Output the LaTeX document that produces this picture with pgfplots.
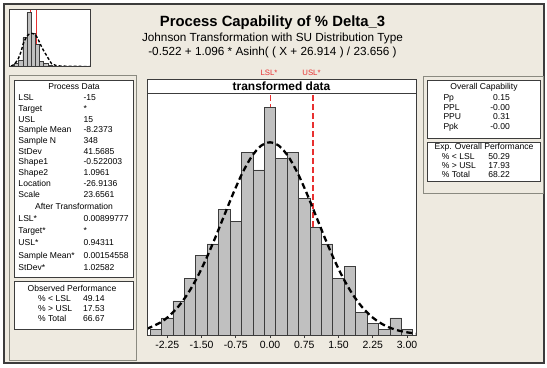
\documentclass[border=0pt]{standalone}
\usepackage{pgfplots}
\pgfplotsset{compat=1.18}
\usepackage{fontspec}
\setmainfont{Liberation Sans}
\definecolor{bg}{HTML}{EEEAE0}
\definecolor{barfill}{HTML}{C0C0C0}
\definecolor{frm}{HTML}{3C3C3C}
\definecolor{pan}{HTML}{8A8A80}
\definecolor{spec}{HTML}{E83030}
\newcommand{\fs}[1]{\fontsize{#1}{#1}\selectfont}
\newcommand{\lrow}[3]{%
  \node[anchor=base west,inner sep=0] at (18.3,#1+3.1) {#2};
  \node[anchor=base west,inner sep=0] at (83.3,#1+3.1) {#3};}
\newcommand{\orow}[3]{%
  \node[anchor=base west,inner sep=0] at (38,#1+3.1) {#2};
  \node[anchor=base west,inner sep=0] at (83,#1+3.1) {#3};}
\newcommand{\rrow}[4]{%
  \node[anchor=base west,inner sep=0] at (#1,#2+3.1) {#3};
  \node[anchor=base east,inner sep=0] at (510,#2+3.1) {#4};}
\begin{document}
\begin{tikzpicture}[x=1bp,y=1bp]
\useasboundingbox (0,0) rectangle (547,367);
\fill[white] (0,0) rectangle (547,367);
\begin{scope}[yshift=367bp,y=-1bp]
  \fill[bg] (4,4) rectangle (544,363);
  \draw[frm,line width=1.4bp] (4,4) rectangle (544,363);
  \draw[pan,line width=0.8bp] (9.5,75.5) rectangle (136,360);
  \draw[pan,line width=0.8bp] (423,76) rectangle (543,193);
  \fill[white] (14,80) rectangle (133,277);
  \draw[frm,line width=0.9bp] (14,80) rectangle (133,277);
  \fill[white] (14,281) rectangle (133,329);
  \draw[frm,line width=0.9bp] (14,281) rectangle (133,329);
  \fill[white] (427,80) rectangle (540,138);
  \draw[frm,line width=0.9bp] (427,80) rectangle (540,138);
  \fill[white] (427,142) rectangle (540,181);
  \draw[frm,line width=0.9bp] (427,142) rectangle (540,181);
  \fill[white] (147,79) rectangle (416,93);
  \draw[frm,line width=0.9bp] (147,79) rectangle (416,93);
\end{scope}

% inset histogram of original data
\begin{axis}[
  at={(9.3bp,300.3bp)}, anchor=south west,
  width=81.4bp, height=57.4bp, scale only axis,
  xmin=9.3, xmax=90.7, ymin=0, ymax=57.4,
  xtick=\empty, ytick=\empty,
  axis line style={frm, line width=0.8bp},
  axis background/.style={fill=white},
  axis on top,
]
\addplot[spec, line width=0.6bp] coordinates {(30,0) (30,56.5)};
\addplot[spec, line width=0.6bp] coordinates {(36.7,0) (36.7,56.5)};
\addplot[ybar interval, fill=barfill, draw=frm, line width=0.4bp] coordinates {
 (14.3,3) (18.5,6) (22.7,29) (26.8,54) (31,33) (35.2,22) (39.3,5) (43.5,3) (47.7,1) (51.8,1)};
\addplot[black, line width=1.4bp, dash pattern=on 3bp off 2bp, smooth] coordinates {
 (11,0.8) (13.3,1.7) (16,4.5) (18.3,8) (21,15) (23.3,23) (26,29) (28.3,32) (31,33.5) (33.3,33)
 (36,31) (38.3,27) (42,19) (46.7,11) (51.7,3) (56,1.2) (62,0.6) (75,0.3) (90,0.2)};
\end{axis}

% main histogram
\begin{axis}[
  at={(147bp,32bp)}, anchor=south west,
  width=269bp, height=242bp, scale only axis,
  xmin=-2.693, xmax=3.197, ymin=0, ymax=42.5,
  ytick=\empty,
  xtick={-2.25,-1.5,-0.75,0,0.75,1.5,2.25,3},
  xticklabels={-2.25,-1.50,-0.75,0.00,0.75,1.50,2.25,3.00},
  xtick pos=bottom, tick align=outside, major tick length=3bp,
  tick style={frm, line width=0.6bp},
  xticklabel style={font=\fs{10.5}},
  axis line style={frm, line width=0.9bp},
  axis background/.style={fill=white},
  axis on top,
]
\addplot[spec, line width=1.2bp, dash pattern=on 6bp off 3bp] coordinates {(0.009,0) (0.009,42.5)};
\addplot[spec, line width=1.2bp, dash pattern=on 6bp off 3bp] coordinates {(0.943,0) (0.943,42.5)};
\addplot[ybar interval, fill=barfill, draw=frm, line width=0.6bp] coordinates {
 (-2.625,1) (-2.375,3) (-2.125,6) (-1.875,10) (-1.625,14) (-1.375,16) (-1.125,22) (-0.875,20)
 (-0.625,32) (-0.375,29) (-0.125,40) (0.125,31) (0.375,32) (0.625,24) (0.875,19) (1.125,16)
 (1.375,10) (1.625,12) (1.875,4) (2.125,2) (2.375,1) (2.625,3) (2.875,1) (3.125,1)};
\addplot[black, line width=2.3bp, dash pattern=on 6bp off 3.5bp, smooth] coordinates {
 (-2.7,1.060) (-2.4,2.192) (-2.2,3.394) (-2.0,5.059) (-1.8,7.258) (-1.6,10.027) (-1.4,13.335)
 (-1.2,17.071) (-1.0,21.041) (-0.8,24.968) (-0.6,28.520) (-0.4,31.363) (-0.2,33.203) (0,33.84)
 (0.2,33.203) (0.4,31.363) (0.6,28.520) (0.8,24.968) (1.0,21.041) (1.2,17.071) (1.4,13.335)
 (1.6,10.027) (1.8,7.258) (2.0,5.059) (2.2,3.394) (2.4,2.192) (2.6,1.363) (2.8,0.816)
 (3.0,0.470) (3.2,0.261)};
\end{axis}

\begin{scope}[yshift=367bp,y=-1bp]
  \node[anchor=base, font=\bfseries\fs{14.9}, inner sep=0] at (272.5,26.8) {Process Capability of \% Delta\_3};
  \node[anchor=base, font=\fs{11.8}, inner sep=0] at (272.5,41.4) {Johnson Transformation with SU Distribution Type};
  \node[anchor=base, font=\fs{11.8}, inner sep=0] at (272.5,55.8) {-0.522 + 1.096 * Asinh( ( X + 26.914 ) / 23.656 )};
  \node[anchor=base, font=\fs{7.8}, text=spec, inner sep=0] at (269,75.5) {LSL*};
  \node[anchor=base, font=\fs{7.8}, text=spec, inner sep=0] at (311.5,75.5) {USL*};
  \node[anchor=base, font=\bfseries\fs{12}, inner sep=0] at (281.5,90.2) {transformed data};
  \begin{scope}[font=\fs{8.6}]
    \node[anchor=base, inner sep=0] at (74,90) {Process Data};
    \lrow{97.7}{LSL}{-15}
    \lrow{108.4}{Target}{*}
    \lrow{119.1}{USL}{15}
    \lrow{129.8}{Sample Mean}{-8.2373}
    \lrow{140.5}{Sample N}{348}
    \lrow{151.2}{StDev}{41.5685}
    \lrow{161.9}{Shape1}{-0.522003}
    \lrow{172.6}{Shape2}{1.0961}
    \lrow{183.3}{Location}{-26.9136}
    \lrow{194.0}{Scale}{23.6561}
    \node[anchor=base, inner sep=0] at (74,206.2+3.1) {After Transformation};
    \lrow{218}{LSL*}{0.00899777}
    \lrow{230}{Target*}{*}
    \lrow{242}{USL*}{0.94311}
    \lrow{255.5}{Sample Mean*}{0.00154558}
    \lrow{267}{StDev*}{1.02582}
    \node[anchor=base, inner sep=0] at (72,288+3.1) {Observed Performance};
    \orow{298}{\% < LSL}{49.14}
    \orow{308}{\% > USL}{17.53}
    \orow{318}{\% Total}{66.67}
    \node[anchor=base, inner sep=0] at (484,86.7+3.1) {Overall Capability};
    \rrow{443.3}{97.7}{Pp}{0.15}
    \rrow{443.3}{107.3}{PPL}{-0.00}
    \rrow{443.3}{116.9}{PPU}{0.31}
    \rrow{443.3}{126.5}{Ppk}{-0.00}
    \node[anchor=base, inner sep=0] at (484,146.7+3.1) {Exp. Overall Performance};
    \rrow{441.7}{156.5}{\% < LSL}{50.29}
    \rrow{441.7}{165.7}{\% > USL}{17.93}
    \rrow{441.7}{174.9}{\% Total}{68.22}
  \end{scope}
\end{scope}
\end{tikzpicture}
\end{document}
